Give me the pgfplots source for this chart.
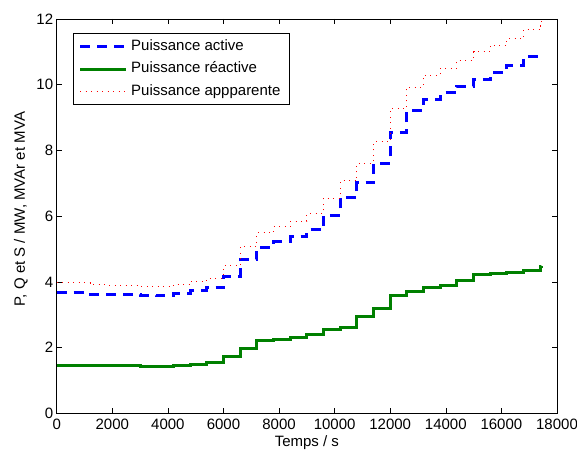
\documentclass[border=0pt]{standalone}
\usepackage{fontspec}
\setmainfont{Liberation Sans}
\usepackage{pgfplots}
\pgfplotsset{compat=1.18}
\begin{document}
\begin{tikzpicture}
\begin{axis}[
  name=ax,
  scale only axis,
  width=500.3pt, height=394.3pt,
  xmin=0, xmax=18000, ymin=0, ymax=12,
  xtick={0,2000,...,18000},
  ytick={0,2,...,12},
  tick align=inside,
  major tick length=5pt,
  every tick/.style={black, line width=0.5pt},
  axis line style={line width=0.8pt},
  font=\fontsize{15}{18}\selectfont,
  /pgf/number format/assume math mode=true,
  /pgf/number format/set thousands separator={},
  scaled x ticks=false,
  xticklabel style={yshift=-2.5pt},
  xlabel={Temps / s},
  ylabel={P, Q et S / MW, MVAr et MVA},
  xlabel style={at={(axis description cs:0.5,-0.0835)}, anchor=base},
  ylabel style={at={(axis description cs:-0.0718,0.518)}, anchor=center},
  legend cell align=left,
  legend image code/.code={\draw[#1] (0pt,0pt) -- (45.6pt,0pt);},
  legend style={at={(axis description cs:0,1)}, anchor=north west,
    xshift=16.6pt, yshift=-14.3pt, draw=black, line width=0.6pt,
    inner xsep=5pt, inner ysep=1.5pt, row sep=0pt,
    nodes={inner xsep=4pt, inner ysep=4pt, text height=11pt, text depth=3.7pt},
    font=\fontsize{15}{18}\selectfont},
]
\addplot[const plot mark left, blue, line width=3pt, dash pattern=on 10pt off 7pt] coordinates {
(0,3.68) (600,3.68) (1200,3.63) (1800,3.63) (2400,3.63) (3000,3.60) (3600,3.58) (4200,3.64) (4800,3.73) (5400,3.82)
(6000,4.16) (6600,4.67) (7200,5.05) (7800,5.22) (8400,5.37) (9000,5.58) (9600,6.03) (10200,6.57) (10800,7.01) (11400,7.61)
(12000,8.56) (12600,9.21) (13200,9.55) (13800,9.75) (14400,9.95) (15000,10.17) (15600,10.37) (16200,10.58) (16800,10.86) (17400,10.90) (17450,10.93)
};
\addlegendentry{Puissance active}
\addplot[const plot mark left, color={rgb,1:red,0;green,0.5;blue,0}, line width=3pt] coordinates {
(0,1.47) (600,1.47) (1200,1.44) (1800,1.44) (2400,1.44) (3000,1.42) (3600,1.42) (4200,1.45) (4800,1.49) (5400,1.54)
(6000,1.72) (6600,1.97) (7200,2.21) (7800,2.25) (8400,2.31) (9000,2.41) (9600,2.55) (10200,2.61) (10800,2.96) (11400,3.20)
(12000,3.57) (12600,3.71) (13200,3.82) (13800,3.90) (14400,4.04) (15000,4.22) (15600,4.26) (16200,4.30) (16800,4.36) (17400,4.46) (17450,4.48)
};
\addlegendentry{Puissance réactive}
\addplot[const plot mark left, red, line width=1pt, dash pattern=on 1pt off 4.5pt] coordinates {
(0,3.97) (600,3.97) (1200,3.91) (1800,3.90) (2400,3.89) (3000,3.87) (3600,3.86) (4200,3.92) (4800,4.02) (5400,4.11)
(6000,4.49) (6600,5.07) (7200,5.49) (7800,5.68) (8400,5.85) (9000,6.08) (9600,6.55) (10200,7.07) (10800,7.61) (11400,8.26)
(12000,9.27) (12600,9.93) (13200,10.29) (13800,10.50) (14400,10.74) (15000,11.01) (15600,11.20) (16200,11.41) (16800,11.68) (17400,11.80) (17450,12.0)
};
\addlegendentry{Puissance appparente}
\end{axis}
\pgfresetboundingbox
\path[use as bounding box] ([xshift=-56.7pt,yshift=-36.7pt]ax.south west) rectangle ([xshift=20pt,yshift=19pt]ax.north east);
\end{tikzpicture}
\end{document}
